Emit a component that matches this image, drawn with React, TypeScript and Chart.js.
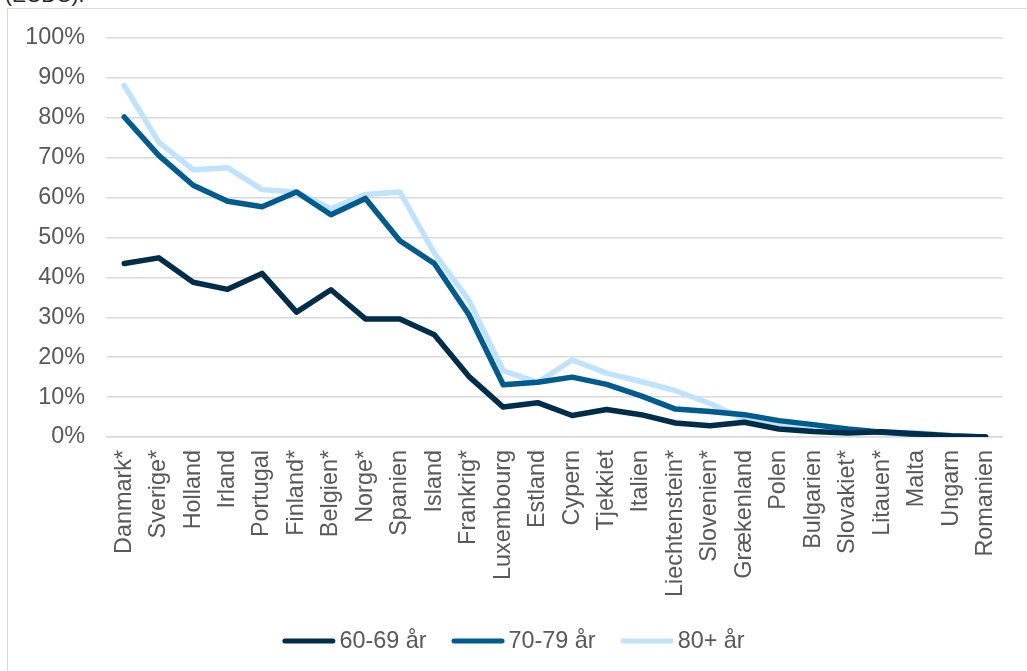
import React, { useEffect, useRef } from "react";
import { Chart, registerables } from "chart.js";

Chart.register(...registerables);

const countries = [
  "Danmark*", "Sverige*", "Holland", "Irland", "Portugal", "Finland*", "Belgien*",
  "Norge*", "Spanien", "Island", "Frankrig*", "Luxembourg", "Estland", "Cypern",
  "Tjekkiet", "Italien", "Liechtenstein*", "Slovenien*", "Grækenland", "Polen",
  "Bulgarien", "Slovakiet*", "Litauen*", "Malta", "Ungarn", "Romanien",
];

const age60to69 = [
  43.5, 44.9, 38.8, 37.0, 41.0, 31.3, 36.9, 29.6, 29.6, 25.6, 15.2, 7.5, 8.6,
  5.4, 6.9, 5.6, 3.5, 2.8, 3.7, 2.0, 1.4, 1.0, 1.3, 0.8, 0.3, 0.0,
];

const age70to79 = [
  80.2, 70.6, 63.1, 59.1, 57.7, 61.4, 55.7, 59.8, 49.2, 43.5, 30.7, 13.1, 13.7,
  15.0, 13.2, 10.3, 7.0, 6.4, 5.6, 4.1, 3.1, 2.0, 1.2, 0.6, 0.1, 0.0,
];

const age80plus = [
  88.1, 73.9, 67.0, 67.5, 62.0, 61.4, 57.2, 60.8, 61.4, 46.1, 34.3, 16.6, 13.7,
  19.3, 16.0, 13.9, 11.6, 8.4, 4.4, 2.9, 2.5, 1.6, 1.1, 1.1, 0.3, 0.0,
];

const seriesNames = ["60-69 år", "70-79 år", "80+ år"];
const seriesColors = ["#002d4a", "#005b8e", "#bfe3fc"];

const FONT = "'Liberation Sans', Arial, sans-serif";
const FONT_SIZE = 23.4;
const TEXT = "#595959";
const GRID = "#d9d9d9";

// Legend drawn under the axis: a short rounded stroke per series followed by its name.
const lineLegend = {
  id: "lineLegend",
  afterDraw(chart: any) {
    const { ctx, width } = chart;
    const swatch = 53;
    const gapText = 4;
    const gapItem = 25;
    const y = 641;
    ctx.save();
    ctx.font = `${FONT_SIZE}px ${FONT}`;
    const items = chart.data.datasets.map((ds: any) => ({
      label: ds.label as string,
      color: ds.borderColor as string,
      w: ctx.measureText(ds.label).width,
    }));
    const total =
      items.reduce((s: number, it: any) => s + swatch + gapText + it.w, 0) +
      gapItem * (items.length - 1);
    let x = width / 2 - total / 2;
    items.forEach((it: any) => {
      ctx.strokeStyle = it.color;
      ctx.lineWidth = 5;
      ctx.lineCap = "round";
      ctx.beginPath();
      ctx.moveTo(x + 2.5, y);
      ctx.lineTo(x + swatch - 2.5, y);
      ctx.stroke();
      ctx.fillStyle = TEXT;
      ctx.textBaseline = "middle";
      ctx.textAlign = "left";
      ctx.fillText(it.label, x + swatch + gapText, y + 1);
      x += swatch + gapText + it.w + gapItem;
    });
    ctx.restore();
  },
};

export default function App() {
  const canvasRef = useRef<HTMLCanvasElement | null>(null);

  useEffect(() => {
    const canvas = canvasRef.current;
    if (!canvas) return;
    const values = [age60to69, age70to79, age80plus];
    const chart = new Chart(canvas, {
      type: "line",
      data: {
        labels: countries,
        datasets: values.map((data, i) => ({
          label: seriesNames[i],
          data,
          borderColor: seriesColors[i],
          backgroundColor: seriesColors[i],
          borderWidth: 5.5,
          borderJoinStyle: "round" as const,
          borderCapStyle: "round" as const,
          pointRadius: 0,
          pointHoverRadius: 0,
          tension: 0,
          fill: false,
        })),
      },
      options: {
        animation: false,
        responsive: false,
        maintainAspectRatio: false,
        layout: { padding: { left: 0, right: 17, top: 38, bottom: 51 } },
        scales: {
          x: {
            type: "category",
            offset: true,
            grid: { display: false, drawTicks: false },
            border: { display: true, color: GRID, width: 1.5 },
            ticks: {
              autoSkip: false,
              maxRotation: 90,
              minRotation: 90,
              padding: 13,
              color: TEXT,
              font: { family: FONT, size: FONT_SIZE },
            },
            afterFit: (scale: any) => {
              scale.height = 183;
            },
          },
          y: {
            min: 0,
            max: 100,
            grid: { color: GRID, lineWidth: 1.5, drawTicks: false },
            border: { display: false },
            ticks: {
              stepSize: 10,
              padding: 22,
              color: TEXT,
              font: { family: FONT, size: FONT_SIZE },
              callback: (v: any) => `${v}%`,
            },
            afterFit: (scale: any) => {
              scale.width = 107;
            },
          },
        },
        plugins: {
          legend: { display: false },
          tooltip: { enabled: false },
        },
      },
      plugins: [lineLegend],
    });
    return () => chart.destroy();
  }, []);

  return (
    <div
      style={{
        position: "fixed",
        left: 0,
        top: 0,
        width: 1027,
        height: 671,
        overflow: "hidden",
        background: "#ffffff",
      }}
    >
      <div
        style={{
          position: "absolute",
          left: 5,
          top: -17,
          fontFamily: FONT,
          fontSize: 21,
          color: "#262626",
          whiteSpace: "nowrap",
        }}
      >
        (ECDC).
      </div>
      <div
        style={{
          position: "absolute",
          left: 7,
          top: 8,
          width: 1040,
          height: 700,
          borderLeft: `1.5px solid ${GRID}`,
          borderTop: `1.5px solid ${GRID}`,
        }}
      />
      <canvas
        ref={canvasRef}
        width={1027}
        height={671}
        style={{ position: "absolute", left: 0, top: 0, width: 1027, height: 671 }}
      />
    </div>
  );
}
